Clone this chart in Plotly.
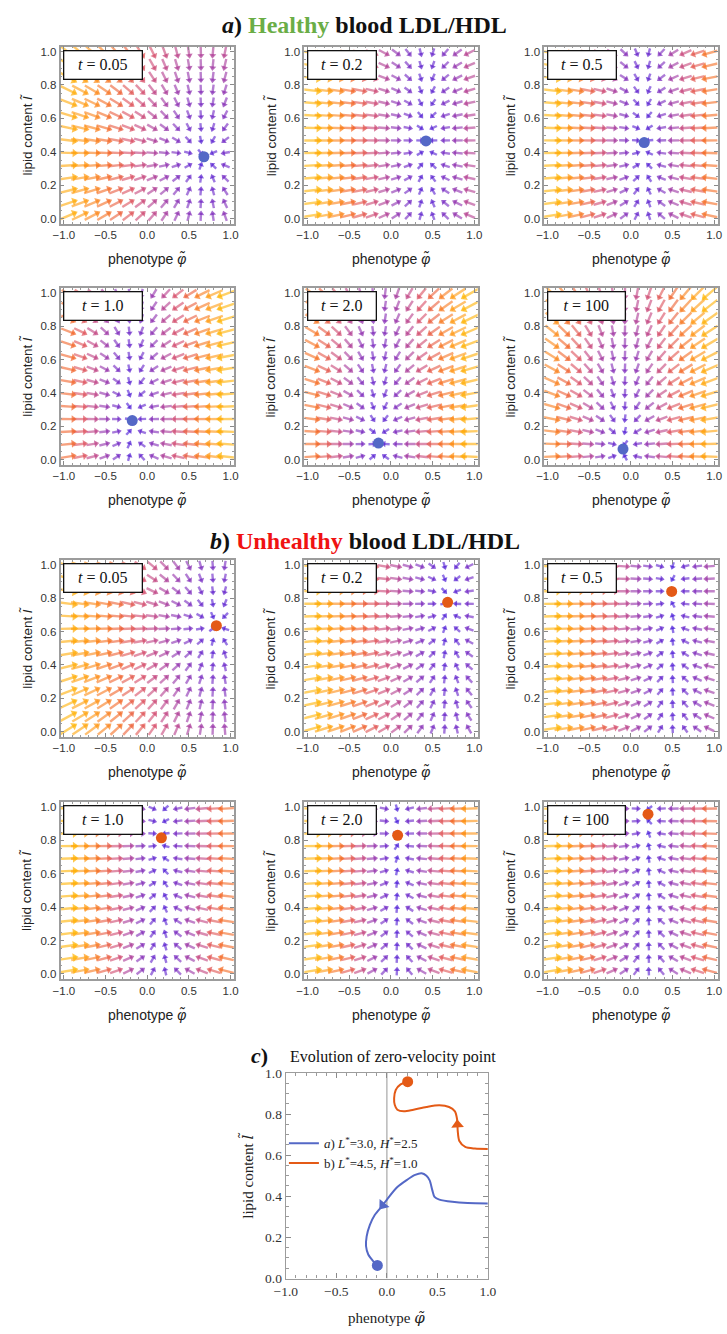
import numpy as np
import plotly.graph_objects as go

W, H = 727, 1334

# ---- data -------------------------------------------------------------
time_labels = ["0.05", "0.2", "0.5", "1.0", "2.0", "100"]
label_box_w = [79, 69, 69, 79, 69, 78]

# zero-velocity point (phenotype, lipid content) at each time, healthy blood
healthy_phi = [0.68, 0.42, 0.16, -0.18, -0.15, -0.094]
healthy_lip = [0.37, 0.465, 0.455, 0.235, 0.10, 0.064]
# lipid-content relaxation strength relative to phenotype relaxation
healthy_k = [1.0, 0.25, 0.2, 0.28, 0.35, 0.48]

# zero-velocity point at each time, unhealthy blood
unhealthy_phi = [0.83, 0.68, 0.49, 0.17, 0.08, 0.206]
unhealthy_lip = [0.635, 0.775, 0.84, 0.815, 0.83, 0.957]
unhealthy_k = [0.9, 0.3, 0.13, 0.12, 0.1, 0.1]

# path of the zero-velocity point, a) L*=3.0, H*=2.5
traj_a_phi = [1.0, 0.80, 0.648, 0.52, 0.472, 0.45, 0.424, 0.392, 0.344, 0.28, 0.20,
              0.104, 0.008, -0.04, -0.12, -0.168, -0.2, -0.206, -0.184, -0.136, -0.094]
traj_a_lip = [0.365, 0.367, 0.373, 0.384, 0.397, 0.43, 0.477, 0.50, 0.512, 0.504, 0.48,
              0.445, 0.389, 0.357, 0.309, 0.261, 0.205, 0.157, 0.117, 0.085, 0.064]
# path of the zero-velocity point, b) L*=4.5, H*=1.0
traj_b_phi = [1.0, 0.872, 0.776, 0.718, 0.702, 0.699, 0.696, 0.674, 0.616, 0.52, 0.392,
              0.264, 0.168, 0.104, 0.078, 0.072, 0.088, 0.136, 0.206]
traj_b_lip = [0.630, 0.632, 0.640, 0.669, 0.717, 0.748, 0.773, 0.813, 0.834, 0.842, 0.834,
              0.821, 0.813, 0.821, 0.845, 0.877, 0.917, 0.944, 0.957]
arrow_idx_a = 13
arrow_idx_b = 5

# ---- styling ----------------------------------------------------------
BLUE = "#5468C6"
ORANGE = "#E45A16"
FIELD_SCALE = [[0.0, "#3F14DA"], [0.15, "#6A20C4"], [0.28, "#8E2CAC"], [0.4, "#B83C88"],
               [0.52, "#D84A62"], [0.68, "#F36424"], [0.85, "#FF9410"], [1.0, "#FFB300"]]
SANS = "Liberation Sans, Arial, sans-serif"
SERIF = "Liberation Serif, Times New Roman, serif"
TILDE_FONT = "font-family:DejaVu Serif"

cols_px = [(50, 228.5), (301, 479.5), (548, 726.5)]
rows_px = [(40, 219), (284, 463), (559, 738), (804, 983)]
XR = [-1.04, 1.04]
YR = [-0.03, 1.03]

grid_phi = np.linspace(-0.93, 0.93, 14)
grid_lip = np.linspace(0.02, 0.99, 14)
GP, GL = np.meshgrid(grid_phi, grid_lip)
GP = GP.ravel()
GL = GL.ravel()


def dom_x(l, r):
    return [l / W, r / W]


def dom_y(t, b):
    return [1 - b / H, 1 - t / H]


fig = go.Figure()
layout = {}
annotations = []
shapes = []

panels = []
for g, (phis, lips, ks) in enumerate([(healthy_phi, healthy_lip, healthy_k),
                                       (unhealthy_phi, unhealthy_lip, unhealthy_k)]):
    for i in range(6):
        panels.append((g, i, phis[i], lips[i], ks[i]))

for p, (g, i, phi0, lip0, k) in enumerate(panels):
    n = p + 1
    row = g * 2 + i // 3
    col = i % 3
    xl, xr = cols_px[col]
    yt, yb = rows_px[row]
    sx = (xr - xl) / (XR[1] - XR[0])
    sy = (yb - yt) / (YR[1] - YR[0])
    xa = "x" if n == 1 else f"x{n}"
    ya = "y" if n == 1 else f"y{n}"

    # velocity field relaxing toward the zero-velocity point
    vphi = phi0 - GP
    vlip = k * (lip0 - GL)
    mag = np.hypot(vphi, vlip)
    rel = mag / mag.max()
    dxp = vphi * sx
    dyp = vlip * sy
    nrm = np.hypot(dxp, dyp)
    nrm = np.where(nrm == 0, 1e-9, nrm)
    ux = dxp / nrm
    uy = dyp / nrm
    ang = np.degrees(np.arctan2(dxp, dyp))

    length = 7.0 + 11.0 * rel
    hsize = 5.5 + 2.0 * rel
    hh = 0.75 * hsize
    tip_x = GP + ux * length / 2 / sx
    tip_y = GL + uy * length / 2 / sy
    head_x = tip_x - ux * (hsize / 2) / sx
    head_y = tip_y - uy * (hsize / 2) / sy
    shaft_len = np.clip(length - hh + 0.8, 0.5, None)
    mid_off = (-length / 2 + shaft_len / 2)
    mid_x = GP + ux * mid_off / sx
    mid_y = GL + uy * mid_off / sy

    fig.add_trace(go.Scatter(
        x=mid_x, y=mid_y, mode="markers", xaxis=xa, yaxis=ya,
        marker=dict(symbol="line-ns-open", size=shaft_len, angle=ang, color=rel,
                    colorscale=FIELD_SCALE, cmin=0, cmax=1, line=dict(width=2.4),
                    opacity=0.6),
        hoverinfo="skip", showlegend=False))
    fig.add_trace(go.Scatter(
        x=head_x, y=head_y, mode="markers", xaxis=xa, yaxis=ya,
        marker=dict(symbol="triangle-up", size=hsize, angle=ang, color=rel,
                    colorscale=FIELD_SCALE, cmin=0, cmax=1, line=dict(width=0)),
        hoverinfo="skip", showlegend=False))
    fig.add_trace(go.Scatter(
        x=[phi0], y=[lip0], mode="markers", xaxis=xa, yaxis=ya,
        marker=dict(size=11, color=BLUE if g == 0 else ORANGE, line=dict(width=0)),
        hoverinfo="skip", showlegend=False))

    axis_common = dict(showgrid=False, zeroline=False, showline=True, linecolor="#9C9C9C",
                       linewidth=1.6, mirror="ticks", ticks="inside", ticklen=4,
                       tickcolor="#8A8A8A", tickwidth=1, tickformat=".1f",
                       tickfont=dict(family=SANS, size=11.5, color="#333333"))
    layout["xaxis" if n == 1 else f"xaxis{n}"] = dict(
        axis_common, domain=dom_x(xl, xr), anchor=ya, range=XR,
        tickvals=[-1, -0.5, 0, 0.5, 1],
        minor=dict(ticks="inside", ticklen=2, dtick=0.1, tickcolor="#9A9A9A"))
    layout["yaxis" if n == 1 else f"yaxis{n}"] = dict(
        axis_common, domain=dom_y(yt, yb), anchor=xa, range=YR,
        tickvals=[0, 0.2, 0.4, 0.6, 0.8, 1.0],
        minor=dict(ticks="inside", ticklen=2, dtick=0.05, tickcolor="#9A9A9A"))

    # time label box
    annotations.append(dict(
        xref=f"{xa} domain", yref=f"{ya} domain", x=3 / (xr - xl), y=1 - 3 / (yb - yt),
        xanchor="left", yanchor="top", showarrow=False,
        text=f"<i>t</i> = {time_labels[i]}", font=dict(family=SERIF, size=16, color="#111"),
        bgcolor="white", bordercolor="#111111", borderwidth=1.3, borderpad=4,
        width=label_box_w[i] - 10, height=19, align="center"))
    # axis titles
    annotations.append(dict(
        xref="paper", yref="paper", x=(xl - 35) / W, y=1 - (yt + yb) / 2 / H,
        xanchor="center", yanchor="middle", textangle=-90, showarrow=False,
        text="lipid content <i>l\u0303</i>", font=dict(family=SANS, size=13.5, color="#222")))
    annotations.append(dict(
        xref="paper", yref="paper", x=(xl + xr) / 2 / W, y=1 - (yb + 36) / H,
        xanchor="center", yanchor="middle", showarrow=False,
        text="phenotype <i>\u03c6\u0303</i>", font=dict(family=SANS, size=14, color="#222")))

# ---- panel c: evolution of the zero-velocity point ---------------------
cxl, cxr, cyt, cyb = 282, 490, 1078, 1286
csx = (cxr - cxl) / 2.0
csy = (cyb - cyt) / 1.0

for name, phis, lips, color, aidx in [
        ("<i>a</i>) <i>L</i><sup>*</sup>=3.0, <i>H</i><sup>*</sup>=2.5", traj_a_phi, traj_a_lip, BLUE, arrow_idx_a),
        ("b) <i>L</i><sup>*</sup>=4.5, <i>H</i><sup>*</sup>=1.0", traj_b_phi, traj_b_lip, ORANGE, arrow_idx_b)]:
    fig.add_trace(go.Scatter(
        x=phis, y=lips, mode="lines", xaxis="x13", yaxis="y13", name=name,
        line=dict(color=color, width=2, shape="spline", smoothing=0.8),
        hoverinfo="skip"))
    dx = (phis[aidx + 1] - phis[aidx - 1]) * csx
    dy = (lips[aidx + 1] - lips[aidx - 1]) * csy
    fig.add_trace(go.Scatter(
        x=[phis[aidx]], y=[lips[aidx]], mode="markers", xaxis="x13", yaxis="y13",
        marker=dict(symbol="triangle-up", size=11, angle=float(np.degrees(np.arctan2(dx, dy))),
                    color=color, line=dict(width=0)),
        hoverinfo="skip", showlegend=False))
    fig.add_trace(go.Scatter(
        x=[phis[-1]], y=[lips[-1]], mode="markers", xaxis="x13", yaxis="y13",
        marker=dict(size=11, color=color, line=dict(width=0)),
        hoverinfo="skip", showlegend=False))

c_common = dict(showgrid=False, zeroline=False, showline=True, linecolor="#9C9C9C",
                linewidth=1.4, mirror="ticks", ticks="inside", ticklen=5,
                tickcolor="#8A8A8A", tickformat=".1f",
                tickfont=dict(family=SERIF, size=13.5, color="#333333"))
layout["xaxis13"] = dict(c_common, domain=dom_x(cxl, cxr), anchor="y13", range=[-1, 1],
                         tickvals=[-1, -0.5, 0, 0.5, 1],
                         minor=dict(ticks="inside", ticklen=3, dtick=0.1, tickcolor="#9A9A9A"))
layout["yaxis13"] = dict(c_common, domain=dom_y(cyt, cyb), anchor="x13", range=[0, 1],
                         tickvals=[0, 0.2, 0.4, 0.6, 0.8, 1.0],
                         minor=dict(ticks="inside", ticklen=3, dtick=0.05, tickcolor="#9A9A9A"))
shapes.append(dict(type="line", xref="x13", yref="y13", x0=0, x1=0, y0=0, y1=1,
                   line=dict(color="#BDBDBD", width=1.6), layer="below"))

annotations.append(dict(
    xref="paper", yref="paper", x=242 / W, y=1 - (cyt + cyb) / 2 / H,
    xanchor="center", yanchor="middle", textangle=-90, showarrow=False,
    text=f"lipid content <span style='{TILDE_FONT}'><i>l\u0303</i></span>",
    font=dict(family=SERIF, size=15, color="#222")))
annotations.append(dict(
    xref="paper", yref="paper", x=(cxl + cxr) / 2 / W, y=1 - 1326 / H,
    xanchor="center", yanchor="middle", showarrow=False,
    text=f"phenotype <span style='{TILDE_FONT}'><i>\u03c6\u0303</i></span>",
    font=dict(family=SERIF, size=15, color="#222")))

# ---- titles -----------------------------------------------------------
annotations.append(dict(
    xref="paper", yref="paper", x=363 / W, y=1 - 18 / H, xanchor="center", yanchor="middle",
    showarrow=False, font=dict(family=SERIF, size=24, color="#111"),
    text="<b><i>a</i>) <span style='color:#6AAD46'>Healthy</span> blood LDL/HDL</b>"))
annotations.append(dict(
    xref="paper", yref="paper", x=363 / W, y=1 - 540 / H, xanchor="center", yanchor="middle",
    showarrow=False, font=dict(family=SERIF, size=24, color="#111"),
    text="<b><i>b</i>) <span style='color:#F01212'>Unhealthy</span> blood LDL/HDL</b>"))
annotations.append(dict(
    xref="paper", yref="paper", x=266 / W, y=1 - 1060 / H, xanchor="right", yanchor="middle",
    showarrow=False, font=dict(family=SERIF, size=22, color="#111"), text="<b><i>c</i>)</b>"))
annotations.append(dict(
    xref="paper", yref="paper", x=284 / W, y=1 - 1062 / H, xanchor="left", yanchor="middle",
    showarrow=False, font=dict(family=SERIF, size=16, color="#111"),
    text="Evolution of zero-velocity point"))

fig.update_layout(
    width=W, height=H, margin=dict(l=0, r=0, t=0, b=0),
    paper_bgcolor="white", plot_bgcolor="white",
    showlegend=True,
    legend=dict(x=280 / W, y=1 - 1134 / H, xanchor="left", yanchor="top",
                bgcolor="rgba(0,0,0,0)", font=dict(family=SERIF, size=13, color="#222"),
                tracegroupgap=0, itemwidth=30),
    annotations=annotations, shapes=shapes, **layout)

fig.write_html("out.html")
